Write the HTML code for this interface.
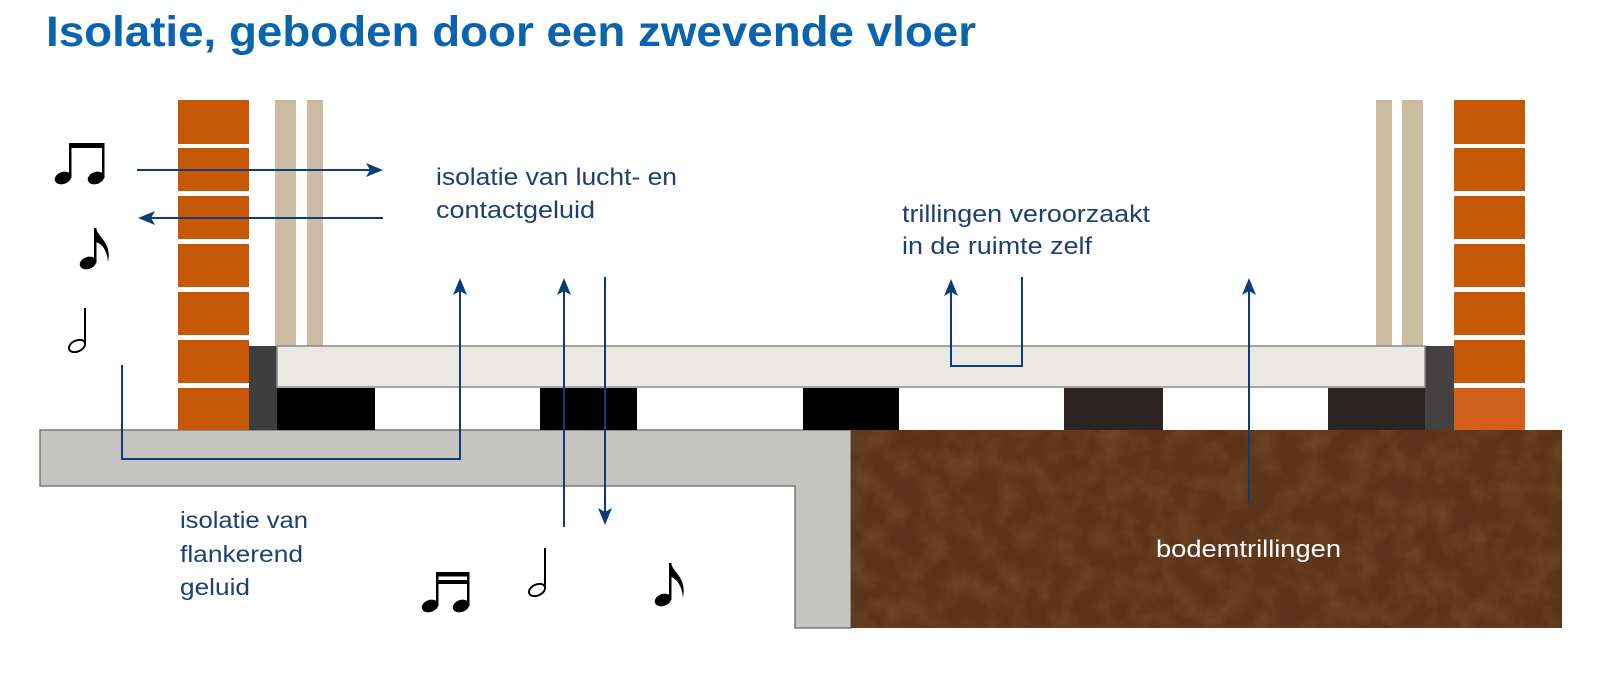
<!DOCTYPE html>
<html><head><meta charset="utf-8"><style>
html,body{margin:0;padding:0;background:#fff;}
svg{display:block;}
text{font-family:"Liberation Sans",sans-serif;}
</style></head><body>
<svg width="1620" height="676" viewBox="0 0 1620 676" xmlns="http://www.w3.org/2000/svg">
<defs>
<filter id="tex" x="0" y="0" width="100%" height="100%">
<feTurbulence type="fractalNoise" baseFrequency="0.04" numOctaves="3" seed="3" result="n"/>
<feColorMatrix in="n" type="matrix" values="0 0 0 0 0.25  0 0 0 0 0.13  0 0 0 0 0.05  0 0 0 1.2 -0.45" result="c"/>
<feComposite in="c" in2="SourceGraphic" operator="in"/>
</filter>
</defs>
<rect width="1620" height="676" fill="#fff"/>
<text x="46" y="46" font-size="43" font-weight="bold" fill="#0a64ad" textLength="930" lengthAdjust="spacingAndGlyphs">Isolatie, geboden door een zwevende vloer</text>

<path d="M40 430 H851 V628 H795 V486 H40 Z" fill="#c4c4c0" stroke="#7a7a78" stroke-width="1.5"/>
<rect x="851" y="430" width="711" height="198" fill="#5c3419"/>
<rect x="851" y="430" width="711" height="198" fill="#000" filter="url(#tex)" opacity="0.6"/>

<g fill="#c65805">
<rect x="178" y="100" width="71" height="44"/>
<rect x="178" y="148" width="71" height="43"/>
<rect x="178" y="196" width="71" height="43"/>
<rect x="178" y="244" width="71" height="43"/>
<rect x="178" y="292" width="71" height="43"/>
<rect x="178" y="340" width="71" height="43"/>
<rect x="178" y="388" width="71" height="42"/>
</g>
<g fill="#c65805">
<rect x="1454" y="100" width="71" height="44"/>
<rect x="1454" y="148" width="71" height="43"/>
<rect x="1454" y="196" width="71" height="43"/>
<rect x="1454" y="244" width="71" height="43"/>
<rect x="1454" y="292" width="71" height="43"/>
<rect x="1454" y="340" width="71" height="43"/>
</g>
<rect x="1454" y="388" width="71" height="42" fill="#d05f1c"/>

<g fill="#cbbca1">
<rect x="275" y="100" width="21" height="246"/>
<rect x="307" y="100" width="16" height="246"/>
<rect x="1376" y="100" width="16" height="246"/>
<rect x="1402" y="100" width="21" height="246"/>
</g>

<rect x="249" y="346" width="28" height="84" fill="#3e3e3e"/>
<rect x="1425" y="346" width="29" height="84" fill="#444142"/>

<rect x="277" y="346" width="1148" height="41" fill="#ebe9e4" stroke="#8a8a88" stroke-width="1.5"/>

<rect x="277" y="388" width="98" height="42" fill="#000"/>
<rect x="540" y="388" width="97" height="42" fill="#000"/>
<rect x="803" y="388" width="96" height="42" fill="#000"/>
<rect x="1064" y="388" width="99" height="42" fill="#2a2422"/>
<rect x="1328" y="388" width="97" height="42" fill="#2a2422"/>

<g stroke="#0b3d78" stroke-width="2" fill="none">
<line x1="137" y1="170" x2="372" y2="170"/>
<line x1="148" y1="218" x2="383" y2="218"/>
<polyline points="122,365 122,459 460,459 460,288"/>
<line x1="564" y1="527" x2="564" y2="288"/>
<line x1="605" y1="277" x2="605" y2="515"/>
<polyline points="951,288 951,366 1022,366 1022,277"/>
<line x1="1249" y1="503" x2="1249" y2="290"/>
</g>
<g fill="#0b3d78">
<path d="M383 170 L366 163 L370 170 L366 177 Z"/>
<path d="M138 218 L155 211 L151 218 L155 225 Z"/>
<path d="M460 278 L453 295 L460 291 L467 295 Z"/>
<path d="M564 278 L557 295 L564 291 L571 295 Z"/>
<path d="M605 525 L598 508 L605 512 L612 508 Z"/>
<path d="M951 279 L944 296 L951 292 L958 296 Z"/>
<path d="M1249 278 L1242 295 L1249 291 L1256 295 Z"/>
</g>

<g fill="#1f3f73" font-size="24">
<text x="436" y="185" textLength="241" lengthAdjust="spacingAndGlyphs">isolatie van lucht- en</text>
<text x="436" y="218" textLength="159" lengthAdjust="spacingAndGlyphs">contactgeluid</text>
<text x="902" y="222" textLength="248" lengthAdjust="spacingAndGlyphs">trillingen veroorzaakt</text>
<text x="902" y="254" textLength="190" lengthAdjust="spacingAndGlyphs">in de ruimte zelf</text>
</g>
<g fill="#1f3f73" font-size="23">
<text x="180" y="528" textLength="128" lengthAdjust="spacingAndGlyphs">isolatie van</text>
<text x="180" y="562" textLength="123" lengthAdjust="spacingAndGlyphs">flankerend</text>
<text x="180" y="595" textLength="70" lengthAdjust="spacingAndGlyphs">geluid</text>
</g>
<text x="1156" y="557" font-size="24" fill="#fff" textLength="185" lengthAdjust="spacingAndGlyphs">bodemtrillingen</text>

<g fill="#000" stroke="none">
<ellipse cx="63" cy="178" rx="8.5" ry="6" transform="rotate(-20 63 178)"/>
<ellipse cx="96" cy="178" rx="8.5" ry="6" transform="rotate(-20 96 178)"/>
<rect x="69" y="143" width="2.5" height="35"/>
<rect x="102" y="143" width="2.5" height="35"/>
<rect x="69" y="143" width="35.5" height="5"/>
<ellipse cx="88" cy="263" rx="8.5" ry="6" transform="rotate(-20 88 263)"/>
<rect x="94" y="228" width="2.5" height="35"/>
<path d="M96 228 C98 238 112 242 108 262 C107 250 102 244 96 242 Z"/>
<ellipse cx="430" cy="606" rx="8.5" ry="6" transform="rotate(-20 430 606)"/>
<ellipse cx="461" cy="606" rx="8.5" ry="6" transform="rotate(-20 461 606)"/>
<rect x="436" y="572" width="2.5" height="34"/>
<rect x="467" y="572" width="2.5" height="34"/>
<rect x="436" y="572" width="33.5" height="4.5"/>
<rect x="436" y="580" width="33.5" height="4"/>
<ellipse cx="663" cy="600" rx="8.5" ry="6" transform="rotate(-20 663 600)"/>
<rect x="669" y="563" width="2.5" height="37"/>
<path d="M671 563 C673 573 687 577 683 598 C682 586 677 579 671 577 Z"/>
</g>
<g fill="none" stroke="#000" stroke-width="2">
<ellipse cx="77" cy="346" rx="8.5" ry="5.5" transform="rotate(-25 77 346)"/>
<line x1="85" y1="308" x2="85" y2="344"/>
<ellipse cx="537" cy="590" rx="8.5" ry="5.5" transform="rotate(-25 537 590)"/>
<line x1="545" y1="548" x2="545" y2="588"/>
</g>
</svg>
</body></html>
